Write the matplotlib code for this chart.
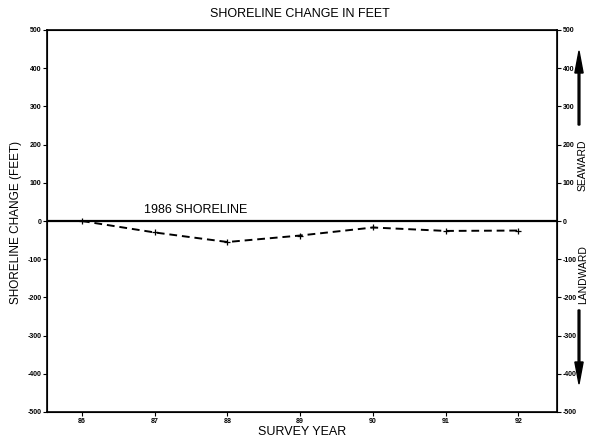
import matplotlib
matplotlib.use("Agg")
import matplotlib.pyplot as plt

years = [86, 87, 88, 89, 90, 91, 92]
change = [0, -30, -55, -38, -17, -26, -25]
yticks = [500, 400, 300, 200, 100, 0, -100, -200, -300, -400, -500]

plt.rcParams["font.family"] = ["Liberation Sans", "DejaVu Sans"]

fig = plt.figure(figsize=(5.89, 4.41), dpi=100)
ax = fig.add_axes([47 / 589, 1 - 412 / 441, 510 / 589, 382 / 441])

ax.axhline(0, color="black", lw=1.6)
ax.plot(years, change, color="black", ls=(0, (4, 2.5)), lw=1.4,
        marker="+", ms=5, mew=0.9)
ax.text(86.85, 12, "1986 SHORELINE", fontsize=9, ha="left", va="bottom")

ax.set_xlim(85.52, 92.53)
ax.set_ylim(-500, 500)
ax.set_xticks(years)
ax.set_xticklabels([str(y) for y in years], fontsize=5, fontweight="bold")
ax.set_yticks(yticks)
ax.set_yticklabels([str(v) for v in yticks], fontsize=5, fontweight="bold")
ax.tick_params(length=3, width=0.8, pad=1)
for s in ax.spines.values():
    s.set_linewidth(1.2)

ax2 = ax.twinx()
ax2.set_ylim(-500, 500)
ax2.set_yticks(yticks)
ax2.set_yticklabels([str(v) for v in yticks], fontsize=5, fontweight="bold")
ax2.tick_params(length=3, width=0.8, pad=1)

fig.text(300 / 589, 1 - 14 / 441, "SHORELINE CHANGE IN FEET", fontsize=9,
         ha="center", va="center")
fig.text(302 / 589, 1 - 432 / 441, "SURVEY YEAR", fontsize=9,
         ha="center", va="center")
fig.text(16 / 589, 1 - 222 / 441, "SHORELINE CHANGE (FEET)", fontsize=8.5,
         ha="center", va="center", rotation=90)

fig.text(583 / 589, 1 - 165 / 441, "SEAWARD", fontsize=7.5,
         ha="center", va="center", rotation=90)
fig.text(583 / 589, 1 - 275 / 441, "LANDWARD", fontsize=7.5,
         ha="center", va="center", rotation=90)
fig.patches.append(matplotlib.patches.FancyArrow(
    579 / 589, 1 - 125 / 441, 0, 52 / 441, width=0.003, head_width=0.014,
    head_length=0.05, color="black", transform=fig.transFigure))
fig.patches.append(matplotlib.patches.FancyArrow(
    579 / 589, 1 - 310 / 441, 0, -52 / 441, width=0.003, head_width=0.014,
    head_length=0.05, color="black", transform=fig.transFigure))

fig.savefig("out.png", dpi=100)
